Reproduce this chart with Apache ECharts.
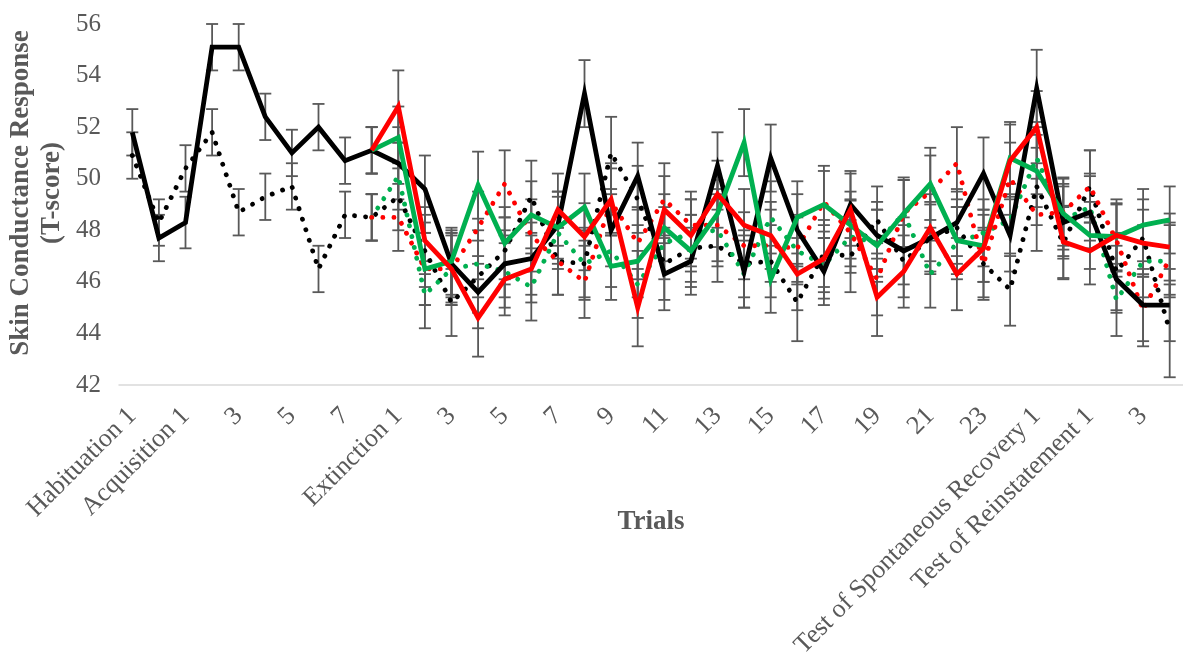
<!DOCTYPE html>
<html><head><meta charset="utf-8">
<script src="https://cdn.jsdelivr.net/npm/echarts@6/dist/echarts.min.js"></script>
<style>html,body{margin:0;padding:0;background:#fff}#c{width:1183px;height:667px}</style>
</head><body><div id="c"></div>
<script>
const categories = ["Habituation 1","2","Acquisition 1","2","3","4","5","6","7","8",
  "Extinction 1","2","3","4","5","6","7","8","9","10","11","12","13","14","15","16","17","18","19","20","21","22","23","24",
  "Test of Spontaneous Recovery 1","2","Test of Reinstatement 1","2","3","4"];
const yTicks = [42,44,46,48,50,52,54,56];

const blackSolid = [51.8,47.7,48.3,55.1,55.1,52.4,51.0,52.0,50.7,51.1, 50.6,49.6,46.7,45.6,46.7,46.9,48.2,53.3,48.0,50.1, 46.3,46.8,50.5,46.4,50.8,48.0,46.4,49.0,47.8,47.2, 47.7,48.3,50.2,47.8,53.5,48.3,48.7,46.1,45.1,45.1];
const blackDot   = [50.9,48.3,50.4,51.8,48.7,49.3,49.7,46.5,48.6,48.5, 49.3,47.2,45.2,46.2,47.2,49.3,46.8,46.7,51.0,49.2, 46.7,47.3,47.4,46.7,46.8,45.2,47.1,47.0,48.4,46.8, 47.7,48.1,46.7,45.7,49.7,47.5,49.7,46.4,47.7,44.1];
const greenSolid = [null,null,null,null,null,null,null,null,null,51.1, 51.6,46.5,46.8,49.75,47.5,48.6,48.1,48.9,46.6,46.8, 48.1,47.2,48.65,51.4,46.1,48.5,49.0,48.2,47.4,48.65, 49.8,47.6,47.4,50.8,50.3,48.65,47.8,47.75,48.2,48.4];
const greenDot   = [null,null,null,null,null,null,null,null,null,48.5, 50.1,45.5,46.5,46.7,46.4,45.8,47.9,46.7,47.2,45.9, 47.5,47.9,48.0,46.3,48.5,47.2,46.65,47.75,47.5,48.65, 46.3,47.5,47.9,48.4,50.8,48.4,48.9,45.3,46.8,46.8];
const redSolid   = [null,null,null,null,null,null,null,null,null,51.1, 52.8,47.6,46.5,44.6,46.1,46.5,48.8,47.75,49.2,45.0, 48.8,47.8,49.4,48.2,47.8,46.3,46.9,48.8,45.4,46.4, 48.1,46.3,47.3,50.7,52.0,47.55,47.2,47.8,47.5,47.35];
const redDot     = [null,null,null,null,null,null,null,null,null,48.5, 48.5,46.5,46.5,48.1,49.8,47.8,46.8,46.0,49.1,47.5, 49.2,48.2,48.2,47.4,47.4,47.3,49.1,47.9,46.1,48.65, 49.5,50.6,46.7,50.0,48.6,48.7,49.7,47.6,44.9,46.9];

const blackSolidErr = [0.9,0.9,1.0,0.9,0.9,0.9,0.9,0.9,0.9,0.9, 1.4,1.3,1.3,1.4,1.3,1.4,1.3,1.3,1.4,1.3, 1.4,1.3,1.3,1.4,1.3,1.4,1.3,1.3,1.3,1.3, 1.4,1.3,1.4,1.4,1.5,1.4,1.4,1.3,1.4,1.4];
const blackDotErr   = [0.9,0.9,0.9,0.9,0.9,0.9,0.9,0.9,0.9,0.9, 1.3,1.4,1.3,1.4,1.3,1.4,1.3,1.4,1.4,1.3, 1.4,1.3,1.4,1.3,1.4,1.5,1.3,1.4,1.3,1.4, 1.3,1.4,1.4,1.4,1.5,1.4,1.4,1.5,1.5,1.8];
const greenSolidErr = [null,null,null,null,null,null,null,null,null,0.9, 1.2,1.4,1.3,1.3,1.4,1.3,1.4,1.3,1.3,1.4, 1.3,1.4,1.3,1.3,1.3,1.4,1.3,1.3,1.4,1.3, 1.4,1.3,1.4,1.4,1.4,1.4,1.3,1.3,1.4,1.3];
const greenDotErr   = [null,null,null,null,null,null,null,null,null,0.9, 1.3,1.3,1.4,1.3,1.4,1.3,1.4,1.3,1.4,1.3, 1.4,1.3,1.4,1.3,1.4,1.3,1.3,1.4,1.3,1.4, 1.3,1.4,1.3,1.4,1.4,1.4,1.3,1.4,1.4,1.4];
const redSolidErr   = [null,null,null,null,null,null,null,null,null,0.9, 1.4,1.3,1.4,1.5,1.4,1.3,1.4,1.3,1.4,1.5, 1.3,1.4,1.3,1.4,1.3,1.4,1.3,1.4,1.5,1.4, 1.3,1.4,1.3,1.4,1.4,1.4,1.3,1.4,1.3,1.3];
const redDotErr     = [null,null,null,null,null,null,null,null,null,0.9, 1.3,1.4,1.3,1.4,1.3,1.4,1.3,1.4,1.3,1.4, 1.4,1.3,1.4,1.3,1.4,1.3,1.4,1.3,1.4,1.3, 1.4,1.4,1.3,1.4,1.4,1.3,1.4,1.4,1.4,1.4];

const SERIF = '"Liberation Serif", "Times New Roman", serif';
const GREY = '#595959';

function errSeries(vals, errs) {
  const data = [];
  vals.forEach((v, i) => { if (v != null) data.push([i, v - errs[i], v + errs[i]]); });
  return {
    type: 'custom', silent: true, z: 1, data: data, encode: { x: 0, y: [1, 2] },
    renderItem: function (params, api) {
      const lo = api.coord([api.value(0), api.value(1)]);
      const hi = api.coord([api.value(0), api.value(2)]);
      const hw = 6;
      const st = { stroke: GREY, lineWidth: 1.8 };
      return { type: 'group', children: [
        { type: 'line', shape: { x1: lo[0], y1: lo[1], x2: hi[0], y2: hi[1] }, style: st },
        { type: 'line', shape: { x1: lo[0] - hw, y1: lo[1], x2: lo[0] + hw, y2: lo[1] }, style: st },
        { type: 'line', shape: { x1: hi[0] - hw, y1: hi[1], x2: hi[0] + hw, y2: hi[1] }, style: st }
      ]};
    }
  };
}
function lineSeries(name, vals, color, dotted) {
  return {
    name: name, type: 'line', data: vals, showSymbol: false, symbol: 'none', z: dotted ? 2 : 3,
    connectNulls: false,
    lineStyle: dotted
      ? { color: color, width: 4.8, type: [0.1, 11], cap: 'round' }
      : { color: color, width: 4.8, join: 'miter' }
  };
}

const chart = echarts.init(document.getElementById('c'), null, { renderer: 'canvas' });
chart.setOption({
  animation: false,
  backgroundColor: '#ffffff',
  grid: { left: 119, right: 0, top: 24, bottom: 282, containLabel: false },
  xAxis: {
    type: 'category', data: categories, boundaryGap: true,
    axisLine: { lineStyle: { color: '#d9d9d9', width: 1.5 } },
    axisTick: { show: false },
    axisLabel: { interval: 1, rotate: 45, margin: 27, fontFamily: SERIF, fontSize: 26, color: GREY }
  },
  yAxis: {
    type: 'value', min: yTicks[0], max: yTicks[yTicks.length - 1], interval: 2,
    axisLine: { show: false }, axisTick: { show: false }, splitLine: { show: false },
    axisLabel: { margin: 18, fontFamily: SERIF, fontSize: 25, color: GREY }
  },
  graphic: [
    { type: 'text', x: 37, y: 193, rotation: Math.PI / 2,
      style: { text: 'Skin Conductance Response\n(T-score)', font: 'bold 27px ' + SERIF, fill: GREY,
               align: 'center', verticalAlign: 'middle', lineHeight: 31 } },
    { type: 'text', x: 651, y: 522,
      style: { text: 'Trials', font: 'bold 27px ' + SERIF, fill: GREY, align: 'center', verticalAlign: 'middle' } }
  ],
  series: [
    errSeries(blackSolid, blackSolidErr),
    errSeries(blackDot, blackDotErr),
    errSeries(greenSolid, greenSolidErr),
    errSeries(greenDot, greenDotErr),
    errSeries(redSolid, redSolidErr),
    errSeries(redDot, redDotErr),
    lineSeries('Black dotted', blackDot, '#000000', true),
    lineSeries('Green dotted', greenDot, '#00B050', true),
    lineSeries('Red dotted', redDot, '#FF0000', true),
    lineSeries('Black solid', blackSolid, '#000000', false),
    lineSeries('Green solid', greenSolid, '#00B050', false),
    lineSeries('Red solid', redSolid, '#FF0000', false)
  ]
});
</script>
</body></html>
